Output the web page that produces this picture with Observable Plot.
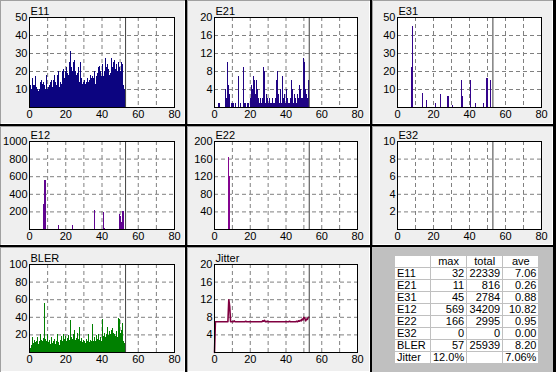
<!DOCTYPE html>
<html><head><meta charset="utf-8">
<script src="https://cdn.jsdelivr.net/npm/d3@7"></script>
<script src="https://cdn.jsdelivr.net/npm/@observablehq/plot@0.6"></script>
<style>
body{margin:0;background:#000;}
#root{position:relative;width:556px;height:372px;background:#000;overflow:hidden;font-family:"Liberation Sans",Arial,sans-serif;}
.cell{position:absolute;background:#efefef;box-shadow:inset 1px 1px 0 #a0a0a0, inset -1px -1px 0 #ffffff;}
.cell svg{position:absolute;left:0;top:0;overflow:visible;}
.tcell{position:absolute;background:#c0c0c0;}
#tbl{position:absolute;left:22px;top:8px;border-collapse:separate;border-spacing:1px;background:#c0c0c0;font-family:"Liberation Sans",Arial,sans-serif;font-size:11px;color:#000;}
#tbl td{background:#fff;width:31px;height:11px;padding:0 2px;line-height:11px;text-align:right;white-space:nowrap;overflow:hidden;}
#tbl td.l{text-align:left;}
#tbl td.h{text-align:center;}
</style></head><body><div id="root"></div>
<script>
// ---------- data ----------
const STEP = 0.5;          // seconds between samples of the dense series
const NOW = 53;            // current-time marker
const X_TICKS = [0, 20, 40, 60, 80];
const X_GRID = [10, 20, 30, 40, 50, 60, 70];

const e11 = [
 11,12,10,16,12,11,12,17,11,10,
 9,10,14,15,13,14,12,11,10,18,
 10,11,12,14,15,11,10,15,18,14,
 12,18,20,11,14,13,20,21,18,16,
 20,22,19,18,25,31,22,20,25,23,
 26,20,18,19,22,14,25,16,13,12,
 14,15,13,14,16,14,15,18,16,14,
 17,16,20,13,17,19,22,23,20,17,
 22,24,17,20,27,22,24,21,18,19,
 27,24,22,25,26,21,24,20,25,22,
 20,25,18,24,12,10];

const e21 = [
 0,0,0,0,1,0,1,0,0,0,
 0,0,4,2,0,10,5,3,0,1,
 1,1,0,1,1,0,0,7,0,1,
 0,0,9,0,1,1,0,1,1,0,
 2,5,4,1,7,6,3,6,4,2,
 1,2,1,1,2,9,8,1,3,2,
 1,1,2,1,1,2,1,1,2,6,
 8,6,3,1,4,1,7,2,3,1,
 4,2,2,1,1,2,6,4,1,3,
 1,2,1,3,2,5,4,2,2,1,
 11,10,4,3,2,6];

const e31Time  = [7.8, 8.1, 8.6, 13.7, 15.9, 21.1, 24.1, 27.8, 28.1, 30.7, 35.6, 35.9, 40.4, 40.7, 43.3, 47.8, 49.3, 49.6, 50.0, 51.5];
const e31Value = [22, 45, 41, 8, 4, 2, 7, 6, 6, 1, 15, 6, 15, 9, 2, 2, 15, 16, 16, 15];

const e12Time  = [7.8, 8.3, 8.8, 13.0, 16.1, 23.9, 29.0, 35.6, 40.6, 41.1, 49.4, 50.0, 50.6, 51.5, 51.9];
const e12Value = [280, 560, 560, 5, 40, 50, 5, 220, 190, 15, 175, 150, 80, 210, 200];

const e22Time  = [8.1, 8.6];
const e22Value = [163, 120];

const e32Time  = [];
const e32Value = [];

const bler = [
 6,5,8,17,10,8,14,11,12,17,
 9,13,20,14,12,16,56,48,15,12,
 20,11,14,9,17,10,13,11,15,9,
 12,20,11,8,14,18,12,20,13,15,
 18,12,16,19,14,36,17,15,20,18,
 25,14,16,22,15,28,12,16,11,9,
 14,12,10,15,13,20,11,14,12,15,
 32,13,17,12,19,15,20,14,17,13,
 37,16,18,22,17,20,28,19,24,21,
 18,25,27,22,20,18,24,17,39,37,
 22,25,18,33,12,10];

const jitter = [
 0,7,7,7,7,7,7,7,7,7,
 7,7,7,7,7,7,12,10.5,7,7,
 7,7,7.2,7,7,7,7,7,7,7,
 7,7,7,7,7,7.1,7,7,7,7,
 7,7,7,7,7,7,7,7,7,7,
 7,7,7,7,7.2,7.1,7.3,7,7,7.1,
 7,7,7,7,7,7,7,7,7,7,
 7,7,7,7,7,7,7,7,7,7,
 7,7,7,7,7.1,7,7,7,7,7,
 7,7,7.1,7,7.2,7.1,7.3,7.2,7.6,7.4,
 8,7.8,7.2,7.6,7.5,8,8];

const tableNames = ["E11","E21","E31","E12","E22","E32","BLER","Jitter"];
const tableMax   = ["32","11","45","569","166","0","57","12.0%"];
const tableTotal = ["22339","816","2784","34209","2995","0","25939",""];
const tableAve   = ["7.06","0.26","0.88","10.82","0.95","0.00","8.20","7.06%"];
const tableHead  = ["", "max", "total", "ave"];

// ---------- layout ----------
const COLS = [{x:0,w:185,fl:29,fr:174},{x:187,w:183,fl:214,fr:357},{x:372,w:181,fl:397,fr:541}];
const ROWS = [{y:0,h:124,ft:17,fb:107},{y:126,h:119,ft:141,fb:229},{y:247,h:125,ft:264,fb:352}];

const dense = vals => vals.map((v, i) => ({t: i * STEP, v}));
const sparse = (ts, vs) => ts.map((t, i) => ({t, v: vs[i]}));

const panels = [
  {title:"E11", col:0, row:0, ymax:50,   yticks:[10,20,30,40,50],       color:"#0c0480", type:"bar",  data:dense(e11)},
  {title:"E21", col:1, row:0, ymax:20,   yticks:[4,8,12,16,20],         color:"#200484", type:"bar",  data:dense(e21)},
  {title:"E31", col:2, row:0, ymax:50,   yticks:[10,20,30,40,50],       color:"#34048c", type:"bar",  data:sparse(e31Time, e31Value)},
  {title:"E12", col:0, row:1, ymax:1000, yticks:[200,400,600,800,1000], color:"#600490", type:"bar",  data:sparse(e12Time, e12Value)},
  {title:"E22", col:1, row:1, ymax:200,  yticks:[40,80,120,160,200],    color:"#840490", type:"bar",  data:sparse(e22Time, e22Value)},
  {title:"E32", col:2, row:1, ymax:10,   yticks:[2,4,6,8,10],           color:"#a00480", type:"bar",  data:sparse(e32Time, e32Value)},
  {title:"BLER",col:0, row:2, ymax:100,  yticks:[20,40,60,80,100],      color:"#008000", type:"bar",  data:dense(bler)},
  {title:"Jitter",col:1,row:2, ymax:20,  yticks:[4,8,12,16,20],         color:"#800040", type:"line", data:dense(jitter)}
];

const root = document.getElementById("root");

for (const p of panels) {
  const C = COLS[p.col], R = ROWS[p.row];
  const cell = document.createElement("div");
  cell.className = "cell";
  Object.assign(cell.style, {left: C.x + "px", top: R.y + "px", width: C.w + "px", height: R.h + "px"});
  const dataMark = p.type === "bar"
    ? Plot.rectY(p.data.filter(d => d.v > 0), {x1: "t", x2: d => d.t + 0.56, y: "v", fill: p.color, shapeRendering: "crispEdges"})
    : Plot.line(p.data, {x: "t", y: "v", stroke: p.color, strokeWidth: 1.6});
  const chart = Plot.plot({
    width: C.w, height: R.h,
    marginLeft: C.fl - C.x, marginRight: C.x + C.w - C.fr,
    marginTop: R.ft - R.y, marginBottom: R.y + R.h - R.fb,
    x: {domain: [0, 80]},
    y: {domain: [0, p.ymax]},
    style: {fontFamily: '"Liberation Sans", Arial, sans-serif', fontSize: "11px", background: "transparent", color: "black", overflow: "visible"},
    marks: [
      Plot.frame({fill: "white", stroke: "none"}),
      Plot.ruleX(X_GRID, {stroke: "#808080", strokeDasharray: "4,3"}),
      Plot.ruleY(p.yticks, {stroke: "#808080", strokeDasharray: "4,3"}),
      dataMark,
      Plot.ruleX([NOW], {stroke: "#404040"}),
      Plot.frame({stroke: "black"}),
      Plot.axisX(X_TICKS, {tickSize: 0, tickPadding: 3, label: null, fontSize: 11, tickFormat: d => String(d)}),
      Plot.axisY(p.yticks, {tickSize: 0, tickPadding: 2, label: null, fontSize: 11, tickFormat: d => String(d)}),
      Plot.text([p.title], {text: d => d, frameAnchor: "top-left", textAnchor: "start", lineAnchor: "bottom", dx: 1, dy: -3, fontSize: 11, fill: "black"})
    ]
  });
  cell.appendChild(chart);
  root.appendChild(cell);
}

// table cell
const tc = document.createElement("div");
tc.className = "tcell";
Object.assign(tc.style, {left: COLS[2].x + "px", top: ROWS[2].y + "px", width: COLS[2].w + "px", height: ROWS[2].h + "px"});
const tbl = document.createElement("table");
tbl.id = "tbl";
const hr = tbl.insertRow();
tableHead.forEach(h => { const c = hr.insertCell(); c.className = "h"; c.textContent = h; });
tableNames.forEach((n, i) => {
  const r = tbl.insertRow();
  [n, tableMax[i], tableTotal[i], tableAve[i]].forEach((v, j) => {
    const c = r.insertCell(); if (j === 0) c.className = "l"; c.textContent = v;
  });
});
tc.appendChild(tbl);
root.appendChild(tc);
</script></body></html>
